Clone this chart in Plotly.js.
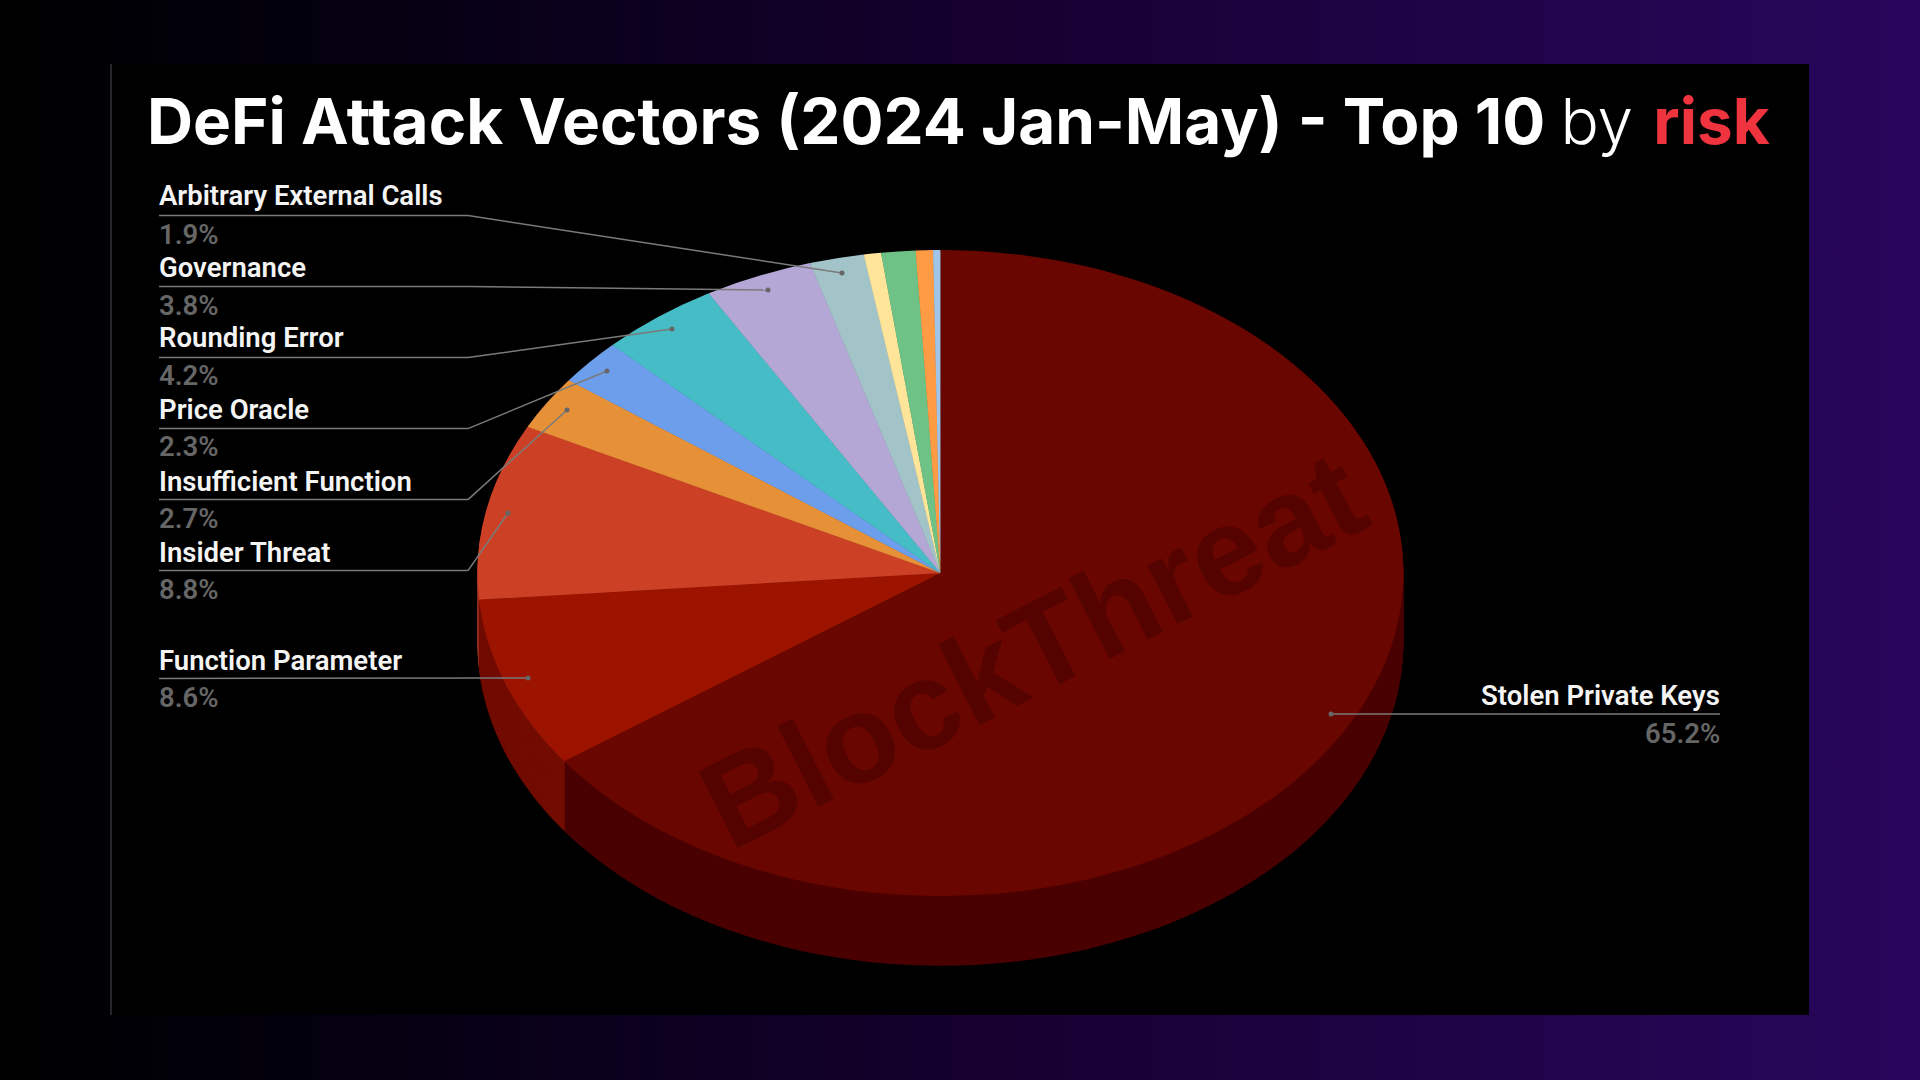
<!DOCTYPE html>
<html><head><meta charset="utf-8">
<script src="https://cdn.plot.ly/plotly-3.0.1.min.js"></script>
<style>
html,body{margin:0;padding:0;width:1920px;height:1080px;overflow:hidden;
background:linear-gradient(90deg,#000000 0%,#040010 18%,#15002e 50%,#1c0340 68%,#28065c 100%);}
#chart{position:absolute;left:0;top:0;width:1920px;height:1080px;}
</style></head><body><div id="chart"></div>
<script>
// Data
const categories = ["Stolen Private Keys","Function Parameter","Insider Threat","Insufficient Function","Price Oracle","Rounding Error","Governance","Arbitrary External Calls","Unlabelled A","Unlabelled B","Unlabelled C","Unlabelled D"];
const values = [65.2,8.6,8.8,2.7,2.3,4.2,3.8,1.9,0.6,1.2,0.6,0.25];
const topColors = ["#690600","#9c1400","#cc4125","#e69138","#6d9eeb","#46bdc6","#b4a7d6","#a2c4c9","#ffe599","#6fc285","#ff9a45","#9fc5e8"];
const wallColors = ["#4a0000","#720c00","#8f2e1a","#a16627","#4c6ea4","#30848b","#7e7596","#71898c","#b3a06b","#4e885d","#b36c30","#6f8aa2"];
const labelNames = ["Arbitrary External Calls","Governance","Rounding Error","Price Oracle","Insufficient Function","Insider Threat","Function Parameter"];
const labelPercents = ["1.9%","3.8%","4.2%","2.3%","2.7%","8.8%","8.6%"];
const rightName = "Stolen Private Keys", rightPercent = "65.2%";

// Layout helpers
const W=1920,H=1080, X=p=>p/W, Y=p=>1-p/H;
const cx=940.4, cyFinal=573, rx=463, ry=323, depth=100, cy0=500, k=ry/rx, step=2;
const dom=s=>({x:[X(cx-rx),X(cx+rx)],y:[Y(cy0+rx+s),Y(cy0-rx+s)]});
const pie=(colors,s)=>({type:'pie',labels:categories,values:values,sort:false,direction:'clockwise',rotation:0,
  textinfo:'none',hoverinfo:'none',showlegend:false,marker:{colors:colors,line:{width:0}},domain:dom(s)});
const traces=[];
for(let s=depth;s>0;s-=step)traces.push(pie(wallColors,s));
traces.push(pie(topColors,0));

const lineCol='#7a7a7a', dotCol='#666666';
const line=(x0,y0,x1,y1,c,w)=>({type:'line',xref:'paper',yref:'paper',x0:X(x0),y0:Y(y0),x1:X(x1),y1:Y(y1),line:{color:c||lineCol,width:w||1.5}});
const dot=(x,y)=>({type:'circle',xref:'paper',yref:'paper',x0:X(x-2.5),x1:X(x+2.5),y0:Y(y-2.5),y1:Y(y+2.5),fillcolor:dotCol,line:{width:0}});
const leftX=159, elbowX=468;
const lineY=[215.5,286.5,357.5,428.6,499.6,570.6,678.4];
const dotPts=[[842,273],[768,290],[672,329],[607,371],[567,410],[508,513],[528,678]];
const nameY=[196,267,338,409,481,552,660];
const pctY=[234,305,376,447,518,589,697];
const shapes=[
 {type:'rect',layer:'below',xref:'paper',yref:'paper',x0:X(111),x1:X(1809),y0:Y(64),y1:Y(1015),fillcolor:'#000000',line:{width:0}},
 line(111,64,111,1015,'#333333',1.5)
];
const annotations=[];
const txt=(t,x,y,anchor,color,weight)=>({text:t,xref:'paper',yref:'paper',x:X(x),y:Y(y),xanchor:anchor,yanchor:'middle',showarrow:false,
  font:{family:'Roboto',size:27.5,color:color,weight:weight},borderpad:0,borderwidth:0});
labelNames.forEach((n,i)=>{
  const [dx,dy]=dotPts[i];
  if(i===6){shapes.push(line(leftX,lineY[i],dx,dy));}
  else{shapes.push(line(leftX,lineY[i],elbowX,lineY[i]));shapes.push(line(elbowX,lineY[i],dx,dy));}
  shapes.push(dot(dx,dy));
  annotations.push(txt(n,leftX,nameY[i],'left','#f4f4f4',600));
  annotations.push(txt(labelPercents[i],leftX,pctY[i],'left','#666666',600));
});
shapes.push(line(1331,714,1720,714));shapes.push(dot(1331,714));
annotations.push(txt(rightName,1720,695.5,'right','#f4f4f4',600));
annotations.push(txt(rightPercent,1720,733.5,'right','#666666',600));
annotations.push({text:'BlockThreat',xref:'paper',yref:'paper',x:X(1032),y:Y(649),xanchor:'center',yanchor:'middle',showarrow:false,textangle:-27,
  font:{family:'Liberation Sans',size:125,color:'rgba(50,0,0,0.38)',weight:700}});

const layout={width:W,height:H,margin:{l:0,r:0,t:0,b:0},paper_bgcolor:'rgba(0,0,0,0)',plot_bgcolor:'rgba(0,0,0,0)',
  title:{text:"DeFi Attack Vectors (2024 Jan-May) - Top 10 <span style='font-weight:300'>by</span>&#8202; <span style='color:#f0343f'>risk</span>",
    x:X(147),xref:'paper',xanchor:'left',y:Y(122),yref:'paper',yanchor:'middle',
    font:{family:'Inter',size:63.8,color:'#ffffff',weight:700}},
  shapes:shapes,annotations:annotations};
Plotly.newPlot('chart',traces,layout,{displayModeBar:false,staticPlot:true}).then(gd=>{
  gd.querySelector('.pielayer').setAttribute('transform',`translate(0,${cyFinal}) scale(1,${k}) translate(0,${-cy0})`);
});
</script></body></html>
